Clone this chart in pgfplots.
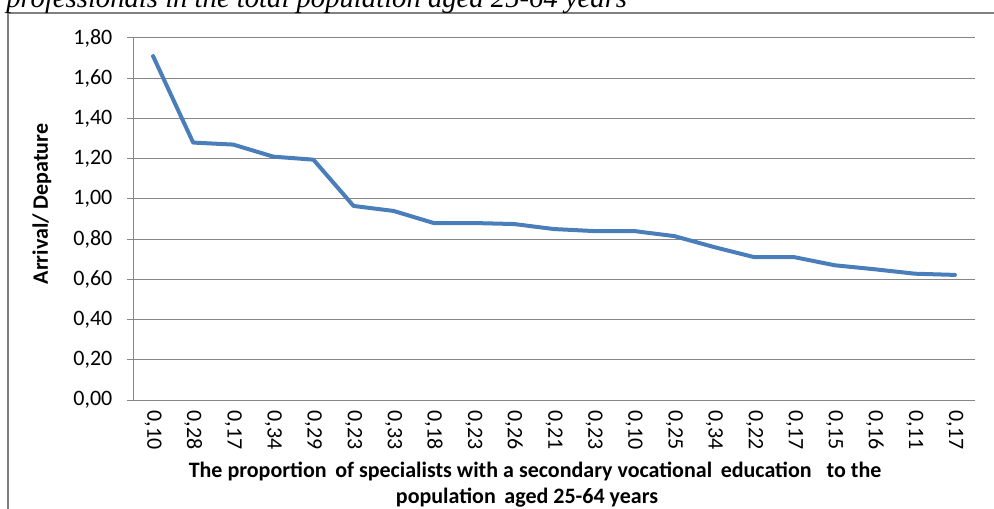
\documentclass[border=0pt]{standalone}
\usepackage{fontspec}
\setmainfont{Carlito}
\newfontfamily\serifit{Liberation Serif}
\usepackage{pgfplots}
\pgfplotsset{compat=1.18}
\definecolor{lineblue}{RGB}{74,126,187}
\definecolor{gridgray}{RGB}{134,134,134}
\definecolor{boxgray}{RGB}{128,128,128}
\begin{document}
\begin{tikzpicture}[x=0.75pt,y=0.75pt]
\useasboundingbox (0,0) rectangle (994,508);
\clip (0,0) rectangle (994,508);
% outer chart frame
\draw[boxgray, line width=1.1pt] (8,-5) -- (8,495) -- (1000,495);
% cut-off caption line above
\node[anchor=base west, inner sep=0pt, font=\serifit\itshape\fontsize{21.5}{24}\selectfont] at (6,500.5) {professionals in the total population aged 25-64 years};
\begin{axis}[
  at={(99.75pt,81pt)}, anchor=south west,
  scale only axis, width=631.5pt, height=271.5pt,
  xmin=0.5, xmax=21.5, ymin=0, ymax=1.8,
  ytick={0,0.2,...,1.8},
  xtick={1,...,21},
  xticklabels={0{,}10,0{,}28,0{,}17,0{,}34,0{,}29,0{,}23,0{,}33,0{,}18,0{,}23,0{,}26,0{,}21,0{,}23,0{,}10,0{,}25,0{,}34,0{,}22,0{,}17,0{,}15,0{,}16,0{,}11,0{,}17},
  axis x line*=bottom, axis y line*=left,
  axis line style={draw=gridgray, line width=0.75pt, -},
  ymajorgrids, grid style={draw=gridgray, line width=0.75pt},
  tick align=outside, major tick length=4.5pt,
  ytick style={draw=gridgray, line width=0.75pt},
  xtick style={draw=none},
  /pgf/number format/assume math mode=true,
  ticklabel style={font=\fontsize{16.5}{18}\selectfont, text=black},
  yticklabel style={xshift=-7.5pt, /pgf/number format/.cd, use comma, fixed, fixed zerofill, precision=2},
  xticklabel style={rotate=-90, anchor=west},
  clip=false,
]
\addplot[lineblue, line width=3pt, line join=round, line cap=round] coordinates {
(1,1.71) (2,1.28) (3,1.27) (4,1.21) (5,1.195) (6,0.965) (7,0.94)
(8,0.88) (9,0.88) (10,0.875) (11,0.85) (12,0.84) (13,0.84) (14,0.815)
(15,0.76) (16,0.71) (17,0.71) (18,0.67) (19,0.65) (20,0.628) (21,0.622)
};
\end{axis}
% axis titles
\node[rotate=90, font=\bfseries\fontsize{16.5}{18}\selectfont] at (42,304) {Arrival/ Depature};
\node[anchor=base, inner sep=0pt, font=\bfseries\fontsize{16.5}{18}\selectfont] at (535,31) {The proportion\, of specialists with a secondary vocational\, education\ \ \ to the};
\node[anchor=base, inner sep=0pt, font=\bfseries\fontsize{16.5}{18}\selectfont] at (527,5) {population\, aged 25-64 years};
\end{tikzpicture}
\end{document}
